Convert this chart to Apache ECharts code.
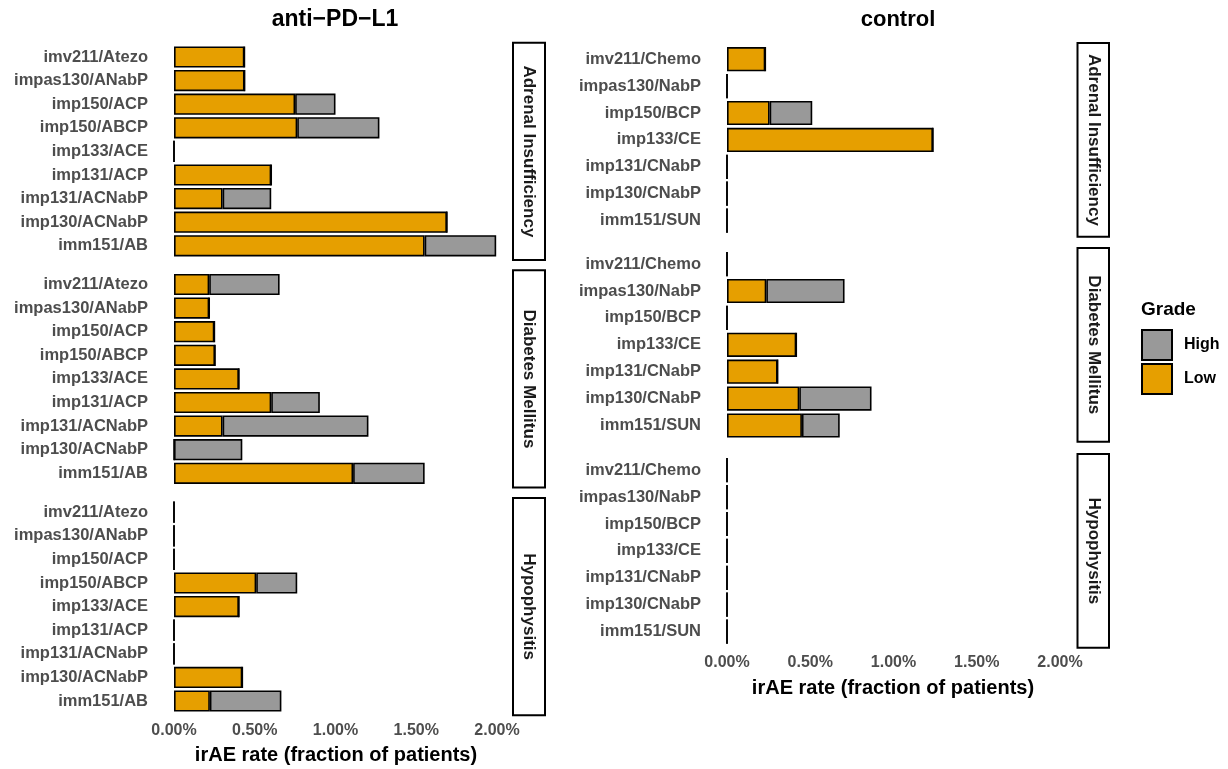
<!DOCTYPE html>
<html>
<head>
<meta charset="utf-8">
<script src="https://cdn.jsdelivr.net/npm/echarts@6/dist/echarts.min.js"></script>
<style>
html,body{margin:0;padding:0;background:#fff;}
#chart{width:1228px;height:769px;}
</style>
</head>
<body>
<div id="chart"></div>
<script>
// ---------- data (rates in percent) ----------
const antiCategories = ['imv211/Atezo','impas130/ANabP','imp150/ACP','imp150/ABCP','imp133/ACE','imp131/ACP','imp131/ACNabP','imp130/ACNabP','imm151/AB'];
const controlCategories = ['imv211/Chemo','impas130/NabP','imp150/BCP','imp133/CE','imp131/CNabP','imp130/CNabP','imm151/SUN'];
const facets = ['Adrenal Insufficiency','Diabetes Mellitus','Hypophysitis'];
const xTicks = [0, 0.5, 1, 1.5, 2];

const antiAdrenalLow   = [0.436, 0.437, 0.750, 0.763, 0, 0.602, 0.301, 1.690, 1.552];
const antiAdrenalHigh  = [0, 0, 0.250, 0.509, 0, 0, 0.301, 0, 0.443];
const antiDiabetesLow  = [0.218, 0.218, 0.250, 0.254, 0.402, 0.602, 0.301, 0, 1.109];
const antiDiabetesHigh = [0.436, 0, 0, 0, 0, 0.301, 0.903, 0.423, 0.443];
const antiHypoLow      = [0, 0, 0, 0.509, 0.402, 0, 0, 0.423, 0.222];
const antiHypoHigh     = [0, 0, 0, 0.254, 0, 0, 0, 0, 0.443];

const ctrlAdrenalLow   = [0.230, 0, 0.256, 1.237, 0, 0, 0];
const ctrlAdrenalHigh  = [0, 0, 0.256, 0, 0, 0, 0];
const ctrlDiabetesLow  = [0, 0.236, 0, 0.416, 0.304, 0.434, 0.450];
const ctrlDiabetesHigh = [0, 0.470, 0, 0, 0, 0.434, 0.227];
const ctrlHypoLow      = [0, 0, 0, 0, 0, 0, 0];
const ctrlHypoHigh     = [0, 0, 0, 0, 0, 0, 0];

// ---------- layout ----------
const FONT = 'Liberation Sans, Arial, Helvetica, sans-serif';
const LOW_COLOR = '#E69F00', HIGH_COLOR = '#999999';

const panels = [
  // anti-PD-L1
  {cats: antiCategories, low: antiAdrenalLow,  high: antiAdrenalHigh,  left: 174, width: 323, top: 45.2,  step: 23.6, bottom: false, strip: facets[0], stripX: 513, stripW: 32},
  {cats: antiCategories, low: antiDiabetesLow, high: antiDiabetesHigh, left: 174, width: 323, top: 272.7, step: 23.6, bottom: false, strip: facets[1], stripX: 513, stripW: 32},
  {cats: antiCategories, low: antiHypoLow,     high: antiHypoHigh,     left: 174, width: 323, top: 500.4, step: 23.6, bottom: true,  strip: facets[2], stripX: 513, stripW: 32},
  // control
  {cats: controlCategories, low: ctrlAdrenalLow,  high: ctrlAdrenalHigh,  left: 727, width: 333, top: 45.75,  step: 26.9, bottom: false, strip: facets[0], stripX: 1077.5, stripW: 31.5},
  {cats: controlCategories, low: ctrlDiabetesLow, high: ctrlDiabetesHigh, left: 727, width: 333, top: 250.65, step: 26.9, bottom: false, strip: facets[1], stripX: 1077.5, stripW: 31.5},
  {cats: controlCategories, low: ctrlHypoLow,     high: ctrlHypoHigh,     left: 727, width: 333, top: 456.75, step: 26.9, bottom: true,  strip: facets[2], stripX: 1077.5, stripW: 31.5}
];

const grid = [], xAxis = [], yAxis = [], series = [], graphic = [];

panels.forEach((p, i) => {
  const h = p.cats.length * p.step;
  grid.push({left: p.left, top: p.top, width: p.width, height: h, containLabel: false});
  xAxis.push({
    type: 'value', gridIndex: i, min: xTicks[0], max: xTicks[xTicks.length - 1], interval: 0.5,
    axisLine: {show: false}, axisTick: {show: false}, splitLine: {show: false},
    axisLabel: {show: p.bottom, margin: 10, color: '#4d4d4d', fontWeight: 'bold', fontSize: 16, fontFamily: FONT,
      formatter: v => v.toFixed(2) + '%'}
  });
  yAxis.push({
    type: 'category', gridIndex: i, data: p.cats, inverse: true,
    axisLine: {show: false}, axisTick: {show: false}, splitLine: {show: false},
    axisLabel: {margin: 26, color: '#4d4d4d', fontWeight: 'bold', fontSize: 16.5, fontFamily: FONT}
  });
  const common = {type: 'bar', xAxisIndex: i, yAxisIndex: i, stack: 'g' + i, barWidth: '90%',
    animation: false, silent: true};
  series.push(Object.assign({}, common, {name: 'Low', data: p.low,
    itemStyle: {color: LOW_COLOR, borderColor: '#000', borderWidth: 1.6}}));
  series.push(Object.assign({}, common, {name: 'High', data: p.high,
    itemStyle: {color: HIGH_COLOR, borderColor: '#000', borderWidth: 1.6}}));

  // facet strip
  const pad = p.step * 0.1;
  const sTop = p.top - pad, sH = h + 2 * pad;
  graphic.push({type: 'rect', shape: {x: p.stripX, y: sTop, width: p.stripW, height: sH},
    style: {fill: '#fff', stroke: '#000', lineWidth: 2}});
  graphic.push({type: 'text', x: p.stripX + p.stripW / 2, y: sTop + sH / 2, rotation: -Math.PI / 2,
    style: {text: p.strip, fill: '#1a1a1a', font: 'bold 17px ' + FONT, align: 'center', verticalAlign: 'middle'}});
});

// panel titles
graphic.push({type: 'text', x: 335, y: 20, style: {text: 'anti\u2212PD\u2212L1', fill: '#000', font: 'bold 23px ' + FONT, align: 'center', verticalAlign: 'middle'}});
graphic.push({type: 'text', x: 898, y: 20, style: {text: 'control', fill: '#000', font: 'bold 22px ' + FONT, align: 'center', verticalAlign: 'middle'}});
// axis titles
graphic.push({type: 'text', x: 336, y: 755, style: {text: 'irAE rate (fraction of patients)', fill: '#000', font: 'bold 20px ' + FONT, align: 'center', verticalAlign: 'middle'}});
graphic.push({type: 'text', x: 893, y: 688, style: {text: 'irAE rate (fraction of patients)', fill: '#000', font: 'bold 20px ' + FONT, align: 'center', verticalAlign: 'middle'}});
// legend title
graphic.push({type: 'text', x: 1141, y: 310, style: {text: 'Grade', fill: '#000', font: 'bold 19px ' + FONT, align: 'left', verticalAlign: 'middle'}});

const option = {
  backgroundColor: '#fff',
  animation: false,
  grid, xAxis, yAxis, series, graphic,
  legend: {
    data: ['High', 'Low'], orient: 'vertical', left: 1141, top: 329, padding: 0,
    itemWidth: 30, itemHeight: 30, itemGap: 2, icon: 'rect', selectedMode: false,
    textStyle: {color: '#000', fontWeight: 'bold', fontSize: 16, fontFamily: FONT, padding: [0, 0, 0, 7]}
  }
};

const chart = echarts.init(document.getElementById('chart'), null, {renderer: 'canvas'});
chart.setOption(option);
</script>
</body>
</html>
